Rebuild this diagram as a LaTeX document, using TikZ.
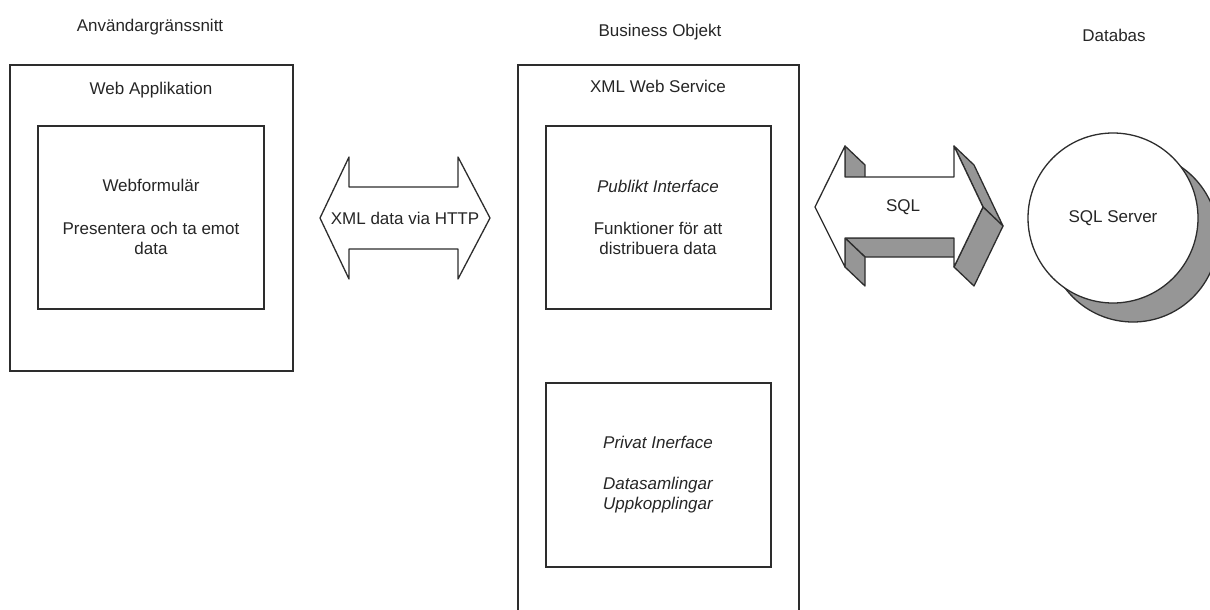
\documentclass[tikz,border=0pt]{standalone}
\usepackage{fontspec}
\setmainfont{Liberation Sans}
\usepackage{xcolor}
\usetikzlibrary{positioning}

\definecolor{edgegray}{RGB}{45,45,45}
\definecolor{sidegray}{RGB}{150,150,150}

\tikzset{
  box/.style={draw=edgegray, line width=1.3pt, fill=white, inner sep=0pt},
  txt/.style={font=\fontsize{17}{20}\selectfont, text=black!85, align=center, inner sep=0pt},
  side/.style={fill=sidegray, draw=edgegray, line width=1.3pt, line join=round},
  front/.style={fill=white, draw=edgegray, line width=1.3pt, line join=round},
}

\begin{document}
\begin{tikzpicture}[x=1pt, y=-1pt]
  \useasboundingbox (0,0) rectangle (1210,610);
  \clip (0,0) rectangle (1210,610);

  % headings
  \node[txt] (ui) at (150,27) {Användargränssnitt};
  \node[txt] (bo) at (660,32) {Business Objekt};
  \node[txt] (db) at (1114,35) {Databas};

  % web application
  \node[box, minimum width=283pt, minimum height=306pt] (webapp) at (151.5,218) {};
  \node[txt] (webapptitle) at (151,90) {Web Applikation};
  \node[box, minimum width=226pt, minimum height=183pt] (webform) at (151,217.5) {};
  \node[txt] (webformtitle) at (151,185) {Webformulär};
  \node[txt] (webformtext) at (151,238) {Presentera och ta emot\\data};

  % web service
  \node[box, minimum width=281pt, minimum height=575pt] (service) at (658.5,352.5) {};
  \node[txt] (servicetitle) at (658,86) {XML Web Service};
  \node[box, minimum width=225pt, minimum height=183pt] (public) at (658.5,217.5) {};
  \node[txt] (publictitle) at (658,186) {\itshape Publikt Interface};
  \node[txt] (publictext) at (658,238) {Funktioner för att\\distribuera data};
  \node[box, minimum width=225pt, minimum height=184pt] (private) at (658.5,475) {};
  \node[txt] (privatetitle) at (658,442) {\itshape Privat Inerface};
  \node[txt] (privatetext) at (658,495) {\itshape Datasamlingar\\\itshape Uppkopplingar};

  % xml arrow
  \draw[front] (320,218) -- (349,157) -- (349,187) -- (458,187) -- (458,157)
    -- (490,218) -- (458,279) -- (458,249) -- (349,249) -- (349,279) -- cycle;
  \node[txt] (xmlhttp) at (405,218) {XML data via HTTP};

  % sql arrow, with its sides
  \draw[side] (954,238) -- (845,238) -- (865,257) -- (974,257) -- cycle;
  \draw[side] (845,238) -- (845,267) -- (865,286) -- (865,257) -- cycle;
  \draw[side] (845,146) -- (845,177) -- (865,196) -- (865,165) -- cycle;
  \draw[side] (954,146) -- (983,207) -- (1003,226) -- (974,165) -- cycle;
  \draw[side] (983,207) -- (954,267) -- (974,286) -- (1003,226) -- cycle;
  \draw[front] (815,207) -- (845,146) -- (845,177) -- (954,177) -- (954,146)
    -- (983,207) -- (954,267) -- (954,238) -- (845,238) -- (845,267) -- cycle;
  \node[txt] (sql) at (903,207) {SQL};

  % database
  \node[side, circle, minimum size=170pt, inner sep=0pt] (servershade) at (1133,237) {};
  \node[box, circle, minimum size=170pt, txt] (sqlserver) at (1113,218) {SQL Server};
\end{tikzpicture}
\end{document}
